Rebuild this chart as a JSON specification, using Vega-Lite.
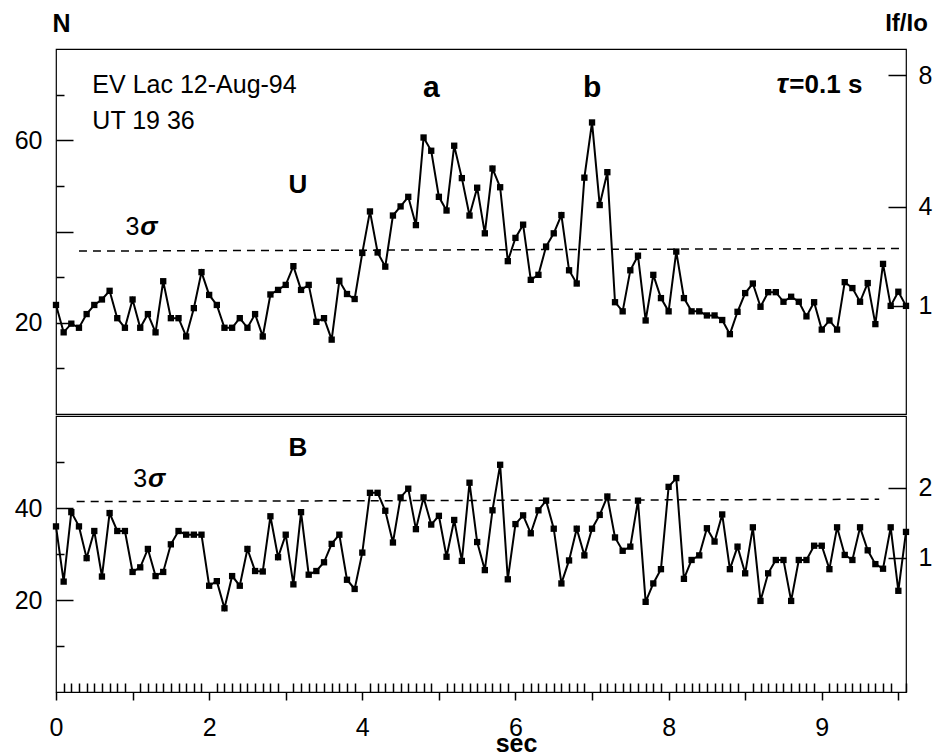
{
  "$schema": "https://vega.github.io/schema/vega-lite/v6.json",
  "background": "white",
  "padding": {"left": 13, "top": 10, "right": 5, "bottom": 2},
  "config": {
    "view": {"stroke": "black", "strokeWidth": 1.2},
    "font": "Liberation Sans",
    "axis": {
      "domain": false, "grid": false,
      "tickColor": "black", "tickWidth": 1.5,
      "labelColor": "black", "labelFont": "Liberation Sans", "labelFontSize": 25,
      "titleColor": "black", "titleFont": "Liberation Sans", "titleFontSize": 25, "titleFontWeight": "bold"
    },
    "text": {"font": "Liberation Sans", "color": "black"}
  },
  "datasets": {
    "counts": [
      {"t": 0.0, "u": 23.9, "b": 36.0}, {"t": 0.1, "u": 17.9, "b": 24.0}, {"t": 0.2, "u": 19.8, "b": 39.1},
      {"t": 0.3, "u": 18.9, "b": 36.0}, {"t": 0.4, "u": 21.9, "b": 29.1}, {"t": 0.5, "u": 23.9, "b": 35.0},
      {"t": 0.6, "u": 25.1, "b": 25.1}, {"t": 0.7, "u": 27.0, "b": 38.9}, {"t": 0.8, "u": 21.0, "b": 35.0},
      {"t": 0.9, "u": 18.9, "b": 35.0}, {"t": 1.0, "u": 25.1, "b": 26.1}, {"t": 1.1, "u": 18.9, "b": 27.1},
      {"t": 1.2, "u": 21.9, "b": 31.1}, {"t": 1.3, "u": 17.9, "b": 25.2}, {"t": 1.4, "u": 29.1, "b": 26.1},
      {"t": 1.5, "u": 21.0, "b": 32.1}, {"t": 1.6, "u": 21.0, "b": 35.0}, {"t": 1.7, "u": 17.0, "b": 34.2},
      {"t": 1.8, "u": 23.2, "b": 34.2}, {"t": 1.9, "u": 31.1, "b": 34.2}, {"t": 2.0, "u": 26.1, "b": 23.1},
      {"t": 2.1, "u": 23.9, "b": 24.1}, {"t": 2.2, "u": 18.9, "b": 18.2}, {"t": 2.3, "u": 18.9, "b": 25.2},
      {"t": 2.4, "u": 21.0, "b": 23.1}, {"t": 2.5, "u": 18.9, "b": 31.1}, {"t": 2.6, "u": 21.9, "b": 26.3},
      {"t": 2.7, "u": 17.0, "b": 26.2}, {"t": 2.8, "u": 26.2, "b": 38.2}, {"t": 2.9, "u": 27.2, "b": 29.3},
      {"t": 3.0, "u": 28.3, "b": 34.2}, {"t": 3.1, "u": 32.4, "b": 23.4}, {"t": 3.2, "u": 27.2, "b": 39.1},
      {"t": 3.3, "u": 28.3, "b": 25.5}, {"t": 3.4, "u": 20.2, "b": 26.3}, {"t": 3.5, "u": 21.0, "b": 28.2},
      {"t": 3.6, "u": 16.3, "b": 32.2}, {"t": 3.7, "u": 29.2, "b": 34.2}, {"t": 3.8, "u": 26.3, "b": 24.4},
      {"t": 3.9, "u": 25.2, "b": 22.4}, {"t": 4.0, "u": 35.3, "b": 30.3}, {"t": 4.1, "u": 44.4, "b": 43.3},
      {"t": 4.2, "u": 35.4, "b": 43.3}, {"t": 4.3, "u": 32.3, "b": 39.4}, {"t": 4.4, "u": 43.5, "b": 32.5},
      {"t": 4.5, "u": 45.5, "b": 42.3}, {"t": 4.6, "u": 47.6, "b": 44.2}, {"t": 4.7, "u": 41.4, "b": 35.4},
      {"t": 4.8, "u": 60.6, "b": 42.3}, {"t": 4.9, "u": 57.7, "b": 36.4}, {"t": 5.0, "u": 47.6, "b": 38.3},
      {"t": 5.1, "u": 44.6, "b": 29.4}, {"t": 5.2, "u": 58.8, "b": 37.4}, {"t": 5.3, "u": 51.7, "b": 28.5},
      {"t": 5.4, "u": 43.5, "b": 45.5}, {"t": 5.5, "u": 49.6, "b": 32.6}, {"t": 5.6, "u": 39.6, "b": 26.5},
      {"t": 5.7, "u": 53.8, "b": 39.5}, {"t": 5.8, "u": 49.7, "b": 49.4}, {"t": 5.9, "u": 33.5, "b": 24.5},
      {"t": 6.0, "u": 38.6, "b": 36.5}, {"t": 6.1, "u": 41.5, "b": 38.4}, {"t": 6.2, "u": 29.4, "b": 34.5},
      {"t": 6.3, "u": 30.5, "b": 39.5}, {"t": 6.4, "u": 36.7, "b": 41.6}, {"t": 6.5, "u": 39.6, "b": 35.5},
      {"t": 6.6, "u": 43.6, "b": 23.6}, {"t": 6.7, "u": 31.5, "b": 28.6}, {"t": 6.8, "u": 28.6, "b": 35.5},
      {"t": 6.9, "u": 51.8, "b": 29.7}, {"t": 7.0, "u": 63.9, "b": 35.5}, {"t": 7.1, "u": 45.8, "b": 38.5},
      {"t": 7.2, "u": 53.0, "b": 42.5}, {"t": 7.3, "u": 24.5, "b": 33.6}, {"t": 7.4, "u": 22.5, "b": 30.7},
      {"t": 7.5, "u": 31.5, "b": 31.6}, {"t": 7.6, "u": 34.7, "b": 41.6}, {"t": 7.7, "u": 20.5, "b": 19.6},
      {"t": 7.8, "u": 30.5, "b": 23.6}, {"t": 7.9, "u": 25.4, "b": 26.7}, {"t": 8.0, "u": 22.5, "b": 44.6},
      {"t": 8.1, "u": 35.6, "b": 46.5}, {"t": 8.2, "u": 25.4, "b": 24.6}, {"t": 8.3, "u": 22.5, "b": 28.7},
      {"t": 8.4, "u": 22.5, "b": 29.7}, {"t": 8.5, "u": 21.6, "b": 35.6}, {"t": 8.6, "u": 21.6, "b": 32.7},
      {"t": 8.7, "u": 20.6, "b": 38.6}, {"t": 8.8, "u": 17.5, "b": 26.7}, {"t": 8.9, "u": 22.4, "b": 31.6},
      {"t": 9.0, "u": 26.5, "b": 25.8}, {"t": 9.1, "u": 28.6, "b": 35.8}, {"t": 9.2, "u": 23.5, "b": 19.8},
      {"t": 9.3, "u": 26.7, "b": 25.8}, {"t": 9.4, "u": 26.7, "b": 28.7}, {"t": 9.5, "u": 24.6, "b": 28.7},
      {"t": 9.6, "u": 25.7, "b": 19.8}, {"t": 9.7, "u": 24.6, "b": 28.7}, {"t": 9.8, "u": 21.4, "b": 28.7},
      {"t": 9.9, "u": 24.5, "b": 31.8}, {"t": 10.0, "u": 18.5, "b": 31.8}, {"t": 10.1, "u": 20.5, "b": 26.7},
      {"t": 10.2, "u": 18.5, "b": 35.8}, {"t": 10.3, "u": 28.9, "b": 29.8}, {"t": 10.4, "u": 27.6, "b": 28.7},
      {"t": 10.5, "u": 24.6, "b": 35.8}, {"t": 10.6, "u": 28.7, "b": 30.8}, {"t": 10.7, "u": 19.7, "b": 27.8},
      {"t": 10.8, "u": 32.9, "b": 26.8}, {"t": 10.9, "u": 23.7, "b": 35.8}, {"t": 11.0, "u": 26.8, "b": 22.0},
      {"t": 11.1, "u": 23.7, "b": 34.8}
    ]
  },
  "spacing": 0,
  "vconcat": [
    {
      "width": 850,
      "height": 365,
      "data": {"name": "counts"},
      "resolve": {"scale": {"y": "independent"}},
      "encoding": {
        "x": {"field": "t", "type": "quantitative", "scale": {"domain": [0, 11.1], "nice": false, "zero": false}, "axis": null}
      },
      "layer": [
        {
          "mark": {"type": "line", "color": "black", "strokeWidth": 2},
          "encoding": {
            "y": {
              "field": "u", "type": "quantitative",
              "scale": {"domain": [0, 80], "nice": false},
              "axis": {
                "orient": "left",
                "values": [10, 20, 30, 40, 50, 60, 70],
                "tickSize": {"condition": {"test": "datum.value % 20 == 0", "value": -17}, "value": -8},
                "labelPadding": 31,
                "labelExpr": "datum.value == 20 || datum.value == 60 ? datum.label : ''",
                "title": "N", "titleAngle": 0, "titleX": 5, "titleY": -26,
                "titleAlign": "center", "titleBaseline": "middle"
              }
            }
          }
        },
        {
          "mark": {"type": "point", "shape": "square", "filled": true, "color": "black", "size": 40, "opacity": 1},
          "encoding": {
            "y": {"field": "u", "type": "quantitative", "scale": {"domain": [0, 80], "nice": false}, "axis": null}
          }
        },
        {
          "data": {"values": [{"t": 0.3, "t2": 11.03, "n": 35.7, "n2": 36.3}]},
          "mark": {"type": "rule", "color": "black", "strokeWidth": 1.5, "strokeDash": [8, 6]},
          "encoding": {
            "x2": {"field": "t2"},
            "y": {"field": "n", "type": "quantitative", "scale": {"domain": [0, 80], "nice": false}, "axis": null},
            "y2": {"field": "n2"}
          }
        },
        {
          "data": {"values": [
            {"t": 0.475, "n": 70.3, "txt": "EV Lac 12-Aug-94"},
            {"t": 0.475, "n": 62.4, "txt": "UT 19 36"}
          ]},
          "mark": {"type": "text", "align": "left", "baseline": "alphabetic", "fontSize": 25},
          "encoding": {
            "y": {"field": "n", "type": "quantitative", "scale": {"domain": [0, 80], "nice": false}, "axis": null},
            "text": {"field": "txt"}
          }
        },
        {
          "data": {"values": [
            {"t": 4.9, "n": 69.5, "txt": "a"},
            {"t": 7.0, "n": 69.5, "txt": "b"}
          ]},
          "mark": {"type": "text", "align": "center", "baseline": "alphabetic", "fontSize": 30, "fontWeight": "bold"},
          "encoding": {
            "y": {"field": "n", "type": "quantitative", "scale": {"domain": [0, 80], "nice": false}, "axis": null},
            "text": {"field": "txt"}
          }
        },
        {
          "data": {"values": [{"t": 10.53, "n": 70.4, "txt": "=0.1 s"}]},
          "mark": {"type": "text", "align": "right", "baseline": "alphabetic", "fontSize": 26, "fontWeight": "bold"},
          "encoding": {
            "y": {"field": "n", "type": "quantitative", "scale": {"domain": [0, 80], "nice": false}, "axis": null},
            "text": {"field": "txt"}
          }
        },
        {
          "data": {"values": [{"t": 9.56, "n": 70.4, "txt": "τ"}]},
          "mark": {"type": "text", "align": "right", "baseline": "alphabetic", "fontSize": 28, "fontWeight": "bold", "fontStyle": "italic"},
          "encoding": {
            "y": {"field": "n", "type": "quantitative", "scale": {"domain": [0, 80], "nice": false}, "axis": null},
            "text": {"field": "txt"}
          }
        },
        {
          "data": {"values": [{"t": 3.16, "n": 48.4, "txt": "U"}]},
          "mark": {"type": "text", "align": "center", "baseline": "alphabetic", "fontSize": 26, "fontWeight": "bold"},
          "encoding": {
            "y": {"field": "n", "type": "quantitative", "scale": {"domain": [0, 80], "nice": false}, "axis": null},
            "text": {"field": "txt"}
          }
        },
        {
          "data": {"values": [{"t": 1.09, "n": 39.2, "txt": "3"}]},
          "mark": {"type": "text", "align": "right", "baseline": "alphabetic", "fontSize": 25},
          "encoding": {
            "y": {"field": "n", "type": "quantitative", "scale": {"domain": [0, 80], "nice": false}, "axis": null},
            "text": {"field": "txt"}
          }
        },
        {
          "data": {"values": [{"t": 1.1, "n": 39.2, "txt": "σ"}]},
          "mark": {"type": "text", "align": "left", "baseline": "alphabetic", "fontSize": 26, "fontWeight": "bold", "fontStyle": "italic"},
          "encoding": {
            "y": {"field": "n", "type": "quantitative", "scale": {"domain": [0, 80], "nice": false}, "axis": null},
            "text": {"field": "txt"}
          }
        },
        {
          "data": {"values": [{"t": 0, "r": 1}]},
          "mark": {"type": "point", "opacity": 0},
          "encoding": {
            "y": {
              "field": "r", "type": "quantitative",
              "scale": {"domain": [-2.273, 8.788], "nice": false, "zero": false},
              "axis": {
                "orient": "right",
                "values": [1, 4, 8],
                "tickSize": -18,
                "labelPadding": 30,
                "title": "If/Io", "titleAngle": 0, "titleX": 0, "titleY": -26,
                "titleAlign": "center", "titleBaseline": "middle", "titleFontSize": 24
              }
            }
          }
        }
      ]
    },
    {
      "width": 850,
      "height": 276,
      "data": {"name": "counts"},
      "resolve": {"scale": {"y": "independent"}},
      "encoding": {
        "x": {
          "field": "t", "type": "quantitative",
          "scale": {"domain": [0, 11.1], "nice": false, "zero": false},
          "axis": {
            "orient": "bottom",
            "tickCount": 111,
            "tickSize": {"condition": {"test": "abs(datum.value - round(datum.value)) < 0.001", "value": 8}, "value": -9},
            "labelPadding": 15,
            "labelOverlap": false,
            "labelFlush": false,
            "labelExpr": "datum.value == 10 ? '9' : (datum.value < 10 && abs(datum.value / 2 - round(datum.value / 2)) < 0.001 ? format(datum.value, 'd') : '')",
            "title": "sec", "titleX": 460, "titleY": 51,
            "titleAlign": "center", "titleBaseline": "middle"
          }
        }
      },
      "layer": [
        {
          "mark": {"type": "line", "color": "black", "strokeWidth": 2},
          "encoding": {
            "y": {
              "field": "b", "type": "quantitative",
              "scale": {"domain": [0, 60], "nice": false},
              "axis": {
                "orient": "left",
                "values": [10, 20, 30, 40, 50],
                "tickSize": {"condition": {"test": "datum.value % 20 == 0", "value": -17}, "value": -8},
                "labelPadding": 31,
                "labelExpr": "datum.value == 20 || datum.value == 40 ? datum.label : ''",
                "title": null
              }
            }
          }
        },
        {
          "mark": {"type": "point", "shape": "square", "filled": true, "color": "black", "size": 40, "opacity": 1},
          "encoding": {
            "y": {"field": "b", "type": "quantitative", "scale": {"domain": [0, 60], "nice": false}, "axis": null}
          }
        },
        {
          "data": {"values": [{"t": 0.27, "t2": 10.75, "n": 41.4, "n2": 41.9}]},
          "mark": {"type": "rule", "color": "black", "strokeWidth": 1.5, "strokeDash": [8, 6]},
          "encoding": {
            "x2": {"field": "t2"},
            "y": {"field": "n", "type": "quantitative", "scale": {"domain": [0, 60], "nice": false}, "axis": null},
            "y2": {"field": "n2"}
          }
        },
        {
          "data": {"values": [{"t": 3.16, "n": 51.4, "txt": "B"}]},
          "mark": {"type": "text", "align": "center", "baseline": "alphabetic", "fontSize": 26, "fontWeight": "bold"},
          "encoding": {
            "y": {"field": "n", "type": "quantitative", "scale": {"domain": [0, 60], "nice": false}, "axis": null},
            "text": {"field": "txt"}
          }
        },
        {
          "data": {"values": [{"t": 1.19, "n": 44.6, "txt": "3"}]},
          "mark": {"type": "text", "align": "right", "baseline": "alphabetic", "fontSize": 25},
          "encoding": {
            "y": {"field": "n", "type": "quantitative", "scale": {"domain": [0, 60], "nice": false}, "axis": null},
            "text": {"field": "txt"}
          }
        },
        {
          "data": {"values": [{"t": 1.2, "n": 44.6, "txt": "σ"}]},
          "mark": {"type": "text", "align": "left", "baseline": "alphabetic", "fontSize": 26, "fontWeight": "bold", "fontStyle": "italic"},
          "encoding": {
            "y": {"field": "n", "type": "quantitative", "scale": {"domain": [0, 60], "nice": false}, "axis": null},
            "text": {"field": "txt"}
          }
        },
        {
          "data": {"values": [{"t": 0, "r": 1}]},
          "mark": {"type": "point", "opacity": 0},
          "encoding": {
            "y": {
              "field": "r", "type": "quantitative",
              "scale": {"domain": [-0.927, 3.033], "nice": false, "zero": false},
              "axis": {
                "orient": "right",
                "values": [1, 2],
                "tickSize": -18,
                "labelPadding": 30,
                "title": null
              }
            }
          }
        }
      ]
    }
  ]
}
